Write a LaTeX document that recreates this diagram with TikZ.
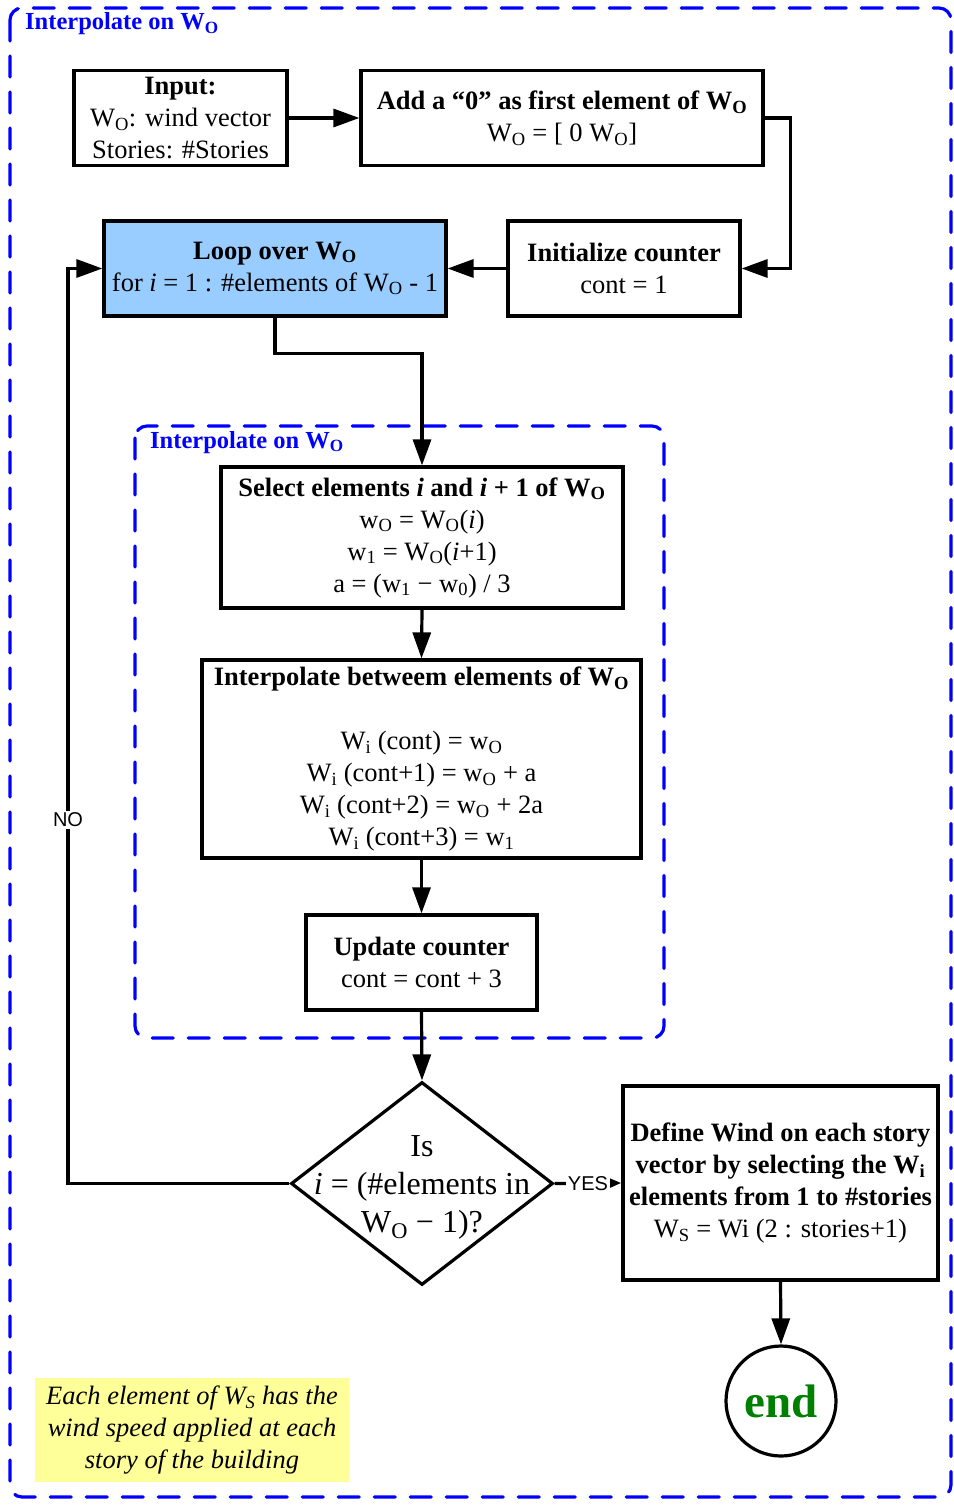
\documentclass[tikz,border=0pt]{standalone}
\usepackage{fontspec}
\setmainfont{Liberation Serif}
\newfontfamily\sansf{Liberation Sans}
\usetikzlibrary{shapes.geometric,arrows.meta}
\definecolor{loopblue}{HTML}{99CCFF}
\definecolor{noteyellow}{HTML}{FFFF99}
\definecolor{endgreen}{HTML}{008000}
\begin{document}
\begin{tikzpicture}[x=1pt,y=-1pt,
  box/.style={draw,line width=3.2pt,align=center,inner sep=0pt,font=\fontsize{26.5}{32}\selectfont},
  conn/.style={line width=3.2pt,-{Triangle[length=26pt,width=18pt]}},
  groupbox/.style={draw=blue,line width=3.2pt,line cap=round,dash pattern=on 21pt off 15pt,rounded corners=12pt},
  grouptitle/.style={text=blue,font=\fontsize{24.5}{28}\selectfont\bfseries,anchor=base west,inner sep=0pt},
  lbl/.style={fill=white,inner sep=1.5pt,font=\sansf\fontsize{20}{22}\selectfont}]
\useasboundingbox (0,0) rectangle (953,1506);
% group frames
\draw[groupbox] (10,8) rectangle (951,1497);
\node[grouptitle] (t1) at (25,30) {Interpolate on W\textsubscript{O}};
\draw[groupbox] (135,426) rectangle (664,1038);
\node[grouptitle] (t2) at (150,448) {Interpolate on W\textsubscript{O}};
% boxes
\node[box,minimum width=213pt,minimum height=95pt] (in) at (180.5,118)
  {\textbf{Input:}\\W\textsubscript{O}: wind vector\\Stories: \#Stories};
\node[box,minimum width=402pt,minimum height=95pt] (add) at (562,118)
  {\textbf{Add a “0” as first element of W\textsubscript{O}}\\W\textsubscript{O} = [ 0 W\textsubscript{O}]};
\node[box,minimum width=232pt,minimum height=95pt] (init) at (624,268.5)
  {\textbf{Initialize counter}\\cont = 1};
\node[box,fill=loopblue,minimum width=342pt,minimum height=95pt] (loop) at (275,268.5)
  {\textbf{Loop over W\textsubscript{O}}\\for \textit{i} = 1 : \#elements of W\textsubscript{O} - 1};
\node[box,minimum width=402pt,minimum height=141pt] (sel) at (422,537.5)
  {\textbf{Select elements \textit{i} and \textit{i} + 1 of W\textsubscript{O}}\\
   w\textsubscript{O} = W\textsubscript{O}(\textit{i})\\
   w\textsubscript{1} = W\textsubscript{O}(\textit{i}+1)\\
   a = (w\textsubscript{1} − w\textsubscript{0}) / 3};
\node[box,minimum width=439pt,minimum height=198pt] (int) at (421.5,759)
  {\textbf{Interpolate betweem elements of W\textsubscript{O}}\\[32pt]
   W\textsubscript{i} (cont) = w\textsubscript{O}\\
   W\textsubscript{i} (cont+1) = w\textsubscript{O} + a\\
   W\textsubscript{i} (cont+2) = w\textsubscript{O} + 2a\\
   W\textsubscript{i} (cont+3) = w\textsubscript{1}};
\node[box,minimum width=231pt,minimum height=95pt] (upd) at (421.5,962.5)
  {\textbf{Update counter}\\cont = cont + 3};
\node[draw,diamond,line width=3.2pt,minimum width=262pt,minimum height=203pt,inner sep=0pt] (dec) at (422,1183.5) {};
\node[align=center,inner sep=0pt,font=\fontsize{32}{38}\selectfont] (dectext) at (422,1187)
  {Is\\\textit{i} = (\#elements in\\W\textsubscript{O} − 1)?};
\node[box,minimum width=315pt,minimum height=194pt] (def) at (780.5,1183)
  {\textbf{Define Wind on each story}\\\textbf{vector by selecting the W\textsubscript{i}}\\\textbf{elements from 1 to \#stories}\\W\textsubscript{S} = Wi (2 : stories+1)};
\node[draw,circle,line width=3.2pt,minimum size=110pt,inner sep=0pt,text=endgreen,font=\fontsize{47}{50}\selectfont\bfseries] (end) at (781,1401) {end};
\node[fill=noteyellow,align=center,inner sep=0pt,minimum width=314pt,minimum height=104pt,font=\fontsize{26.5}{32}\selectfont\itshape] (note) at (192,1430)
  {Each element of W\textsubscript{S} has the\\wind speed applied at each\\story of the building};
% connectors
\draw[conn] (in.east) -- (add.west);
\draw[conn] (add.east) -- ++(26,0) |- (init.east);
\draw[conn] (init.west) -- (loop.east);
\draw[conn] (loop.south) -- ++(0,36) -| (sel.north);
\draw[conn] (sel.south) -- (int.north);
\draw[conn] (int.south) -- (upd.north);
\draw[conn] (upd.south) -- (dec.north);
\draw[line width=3.2pt,-{Triangle[length=12pt,width=9pt]}] (dec.east) -- node[lbl] (yes) {YES} (def.west);
\coordinate (nob) at (68,1183.5);
\draw[conn] (dec.west) -- (nob) |- (loop.west);
\node[lbl] (no) at (68,820) {NO};
\draw[conn] (def.south) -- (end.north);
\end{tikzpicture}
\end{document}
